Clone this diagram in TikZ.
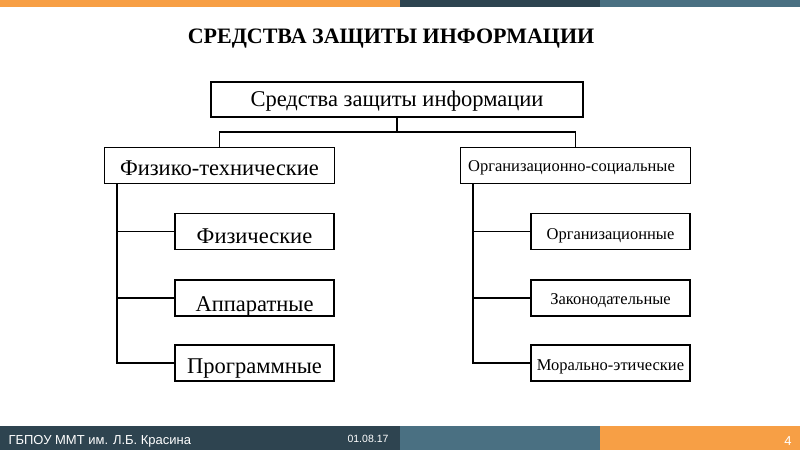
\documentclass[tikz,border=0pt]{standalone}
\usepackage{fontspec}
\setmainfont{Liberation Serif}
\newfontfamily\footfont{Liberation Sans}
\usetikzlibrary{positioning}
\definecolor{barorange}{HTML}{F79F45}
\definecolor{bardark}{HTML}{2E4450}
\definecolor{barsteel}{HTML}{4A7082}

\begin{document}
\begin{tikzpicture}%slide with a tree of boxes
  [x=1pt,y=-1pt,line cap=rect,
   % Styles
   box/.style={draw,line width=1.6pt,inner sep=0pt,align=center,text depth=0pt},
   sink/.style={text height=#1},
   topbox/.style={box,minimum width=372pt,minimum height=35pt,sink=13pt,font=\fontsize{22.5}{26}\selectfont},
   groupbox/.style={box,minimum width=230pt,minimum height=36pt},
   itembox/.style={box,minimum width=159pt,minimum height=36pt},
   big text/.style={font=\fontsize{22.5}{26}\selectfont},
   small text/.style={font=\fontsize{16.5}{19}\selectfont},
   link/.style={line width=1.6pt},
   foot text/.style={text=white,font=\footfont\fontsize{13}{15}\selectfont}]

  \useasboundingbox (0,0) rectangle (800,450);

  % Bars at top and bottom
  \fill[barorange] (0,0) rectangle (400,7);
  \fill[bardark] (400,0) rectangle (600,7);
  \fill[barsteel] (600,0) rectangle (800,7);
  \fill[bardark] (0,426) rectangle (400,450);
  \fill[barsteel] (400,426) rectangle (600,450);
  \fill[barorange] (600,426) rectangle (800,450);

  \node[foot text,anchor=west] (org) at (5,441.5) {ГБПОУ ММТ им. Л.Б. Красина};
  \node[foot text,font=\footfont\fontsize{10.5}{12}\selectfont] (date) at (368,438.5) {01.08.17};
  \node[foot text] (page) at (788,441) {4};

  % Title
  \node[font=\bfseries\fontsize{22}{26}\selectfont] (title) at (391,39) {СРЕДСТВА ЗАЩИТЫ ИНФОРМАЦИИ};

  % The boxes
  \node[topbox] (root) at (397,99.5) {Средства защиты информации};
  \node[groupbox,big text,sink=20pt] (phys) at (219.5,165.5) {Физико-технические};
  \node[groupbox,small text,sink=11pt] (soc) at (575.5,165.5) {Организационно-социальные\hspace*{8pt}};

  \node[itembox,big text,sink=23pt] (fiz) at (254.5,231.5) {Физические};
  \node[itembox,big text,sink=27pt] (app) at (254.5,298) {Аппаратные};
  \node[itembox,big text,sink=20pt] (prog) at (254.5,363) {Программные};

  \node[itembox,small text,sink=15pt] (orgz) at (610.5,231.5) {Организационные};
  \node[itembox,small text,sink=12pt] (zak) at (610.5,298) {Законодательные};
  \node[itembox,small text,sink=14pt] (mor) at (610.5,363) {Морально-этические};

  % Connectors
  \coordinate (split) at ([yshift=-14pt]root.south);
  \draw[link] (root.south) -- (split) -| (phys.north);
  \draw[link] (split) -| (soc.north);

  \foreach \kid in {fiz,app,prog}
    \draw[link] ([xshift=13pt]phys.south west) |- (\kid.west);
  \foreach \kid in {orgz,zak,mor}
    \draw[link] ([xshift=13pt]soc.south west) |- (\kid.west);
\end{tikzpicture}
\end{document}
